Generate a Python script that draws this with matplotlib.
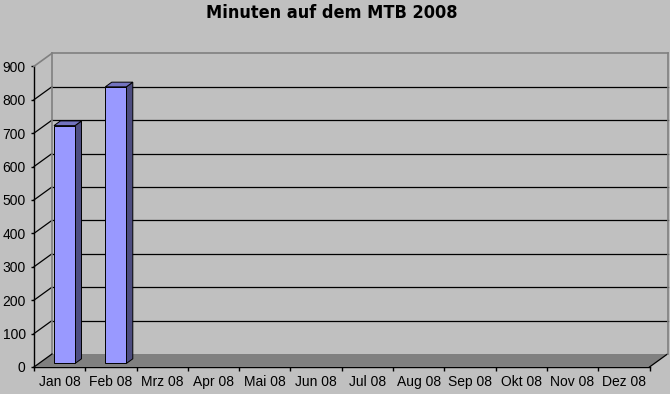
import numpy as np
import matplotlib
matplotlib.use('Agg')
import matplotlib.pyplot as plt
from matplotlib.patches import Polygon
from matplotlib.lines import Line2D
from matplotlib.transforms import IdentityTransform

# data
months = ['Jan 08', 'Feb 08', 'Mrz 08', 'Apr 08', 'Mai 08', 'Jun 08',
          'Jul 08', 'Aug 08', 'Sep 08', 'Okt 08', 'Nov 08', 'Dez 08']
minutes = [712, 828, 0, 0, 0, 0, 0, 0, 0, 0, 0, 0]
yticks = list(range(0, 1000, 100))
title = 'Minuten auf dem MTB 2008'

bg = '#c0c0c0'
plt.rcParams['font.family'] = ['Liberation Sans', 'DejaVu Sans']

fig = plt.figure(figsize=(6.7, 3.94), dpi=100, facecolor=bg)
ax = fig.add_axes([34 / 670, 27 / 394, 615.5 / 670, 300.7 / 394])
ax.set_facecolor('none')
ax.set_xlim(0, len(months))
ax.set_ylim(0, 900)

# depth of the 3d box in pixels (dx, dy up)
DEPTH = np.array([18.0, 13.0])
n = len(months)
ident = IdentityTransform()


def pt(x, v, d):
    p = ax.transData.transform((x, v))
    return p + d * DEPTH


def poly(pts, **kw):
    fig.add_artist(Polygon(pts, closed=True, transform=ident, **kw))


def line(a, b, **kw):
    fig.add_artist(Line2D([a[0], b[0]], [a[1], b[1]], transform=ident, **kw))


# floor
poly([pt(0, 0, 0), pt(n, 0, 0), pt(n, 0, 1), pt(0, 0, 1)],
     facecolor='#808080', edgecolor='none', zorder=1)
line(pt(n, 0, 0), pt(n, 0, 1), color='black', lw=0.9, zorder=2)

# gridlines: left wall diagonals + back wall
for v in yticks[1:-1]:
    line(pt(0, v, 0), pt(0, v, 1), color='black', lw=0.9, zorder=2)
    line(pt(0, v, 1), pt(n, v, 1), color='black', lw=0.9, zorder=2)

# wall edges
wall = '#808080'
line(pt(0, 900, 0), pt(0, 900, 1), color=wall, lw=1.2, zorder=2)
line(pt(0, 900, 1), pt(n, 900, 1), color=wall, lw=1.2, zorder=2)
line(pt(0, 0, 1), pt(0, 900, 1), color=wall, lw=1.2, zorder=2)
line(pt(n, 0, 1), pt(n, 900, 1), color=wall, lw=1.2, zorder=2)
line(pt(0, 0, 0), pt(0, 0, 1), color='black', lw=0.9, zorder=2)

# bars
bw = 0.41
df, db = 0.27, 0.63
for i, v in enumerate(minutes):
    if v <= 0:
        continue
    x0, x1 = i + 0.5 - bw / 2, i + 0.5 + bw / 2
    ek = dict(edgecolor='black', lw=0.7, zorder=3)
    poly([pt(x1, 0, df), pt(x1, v, df), pt(x1, v, db), pt(x1, 0, db)],
         facecolor='#4d4d80', **ek)
    poly([pt(x0, v, df), pt(x1, v, df), pt(x1, v, db), pt(x0, v, db)],
         facecolor='#7373bf', **ek)
    poly([pt(x0, 0, df), pt(x1, 0, df), pt(x1, v, df), pt(x0, v, df)],
         facecolor='#9999ff', **ek)

# axes
for s in ['top', 'right']:
    ax.spines[s].set_visible(False)
for s in ['left', 'bottom']:
    ax.spines[s].set_color('black')
    ax.spines[s].set_linewidth(1.0)
    ax.spines[s].set_zorder(5)

ax.set_yticks(yticks)
ax.set_yticklabels([str(t) for t in yticks])
ax.tick_params(axis='y', direction='out', length=2.5, width=1, pad=3.5,
               labelsize=10, colors='black')
ax.set_xticks(range(n + 1))
ax.set_xticklabels([''] * (n + 1))
ax.set_xticks(np.arange(n) + 0.5, minor=True)
ax.set_xticklabels(months, minor=True)
ax.tick_params(axis='x', which='major', direction='out', length=3, width=1)
ax.tick_params(axis='x', which='minor', length=0, pad=5.5, labelsize=10)

fig.text(332 / 670, 1 - 13 / 394, title, ha='center', va='center',
         fontweight='bold', family='DejaVu Sans', stretch='condensed',
         fontsize=13)

fig.savefig('out.png', dpi=100, facecolor=bg)
